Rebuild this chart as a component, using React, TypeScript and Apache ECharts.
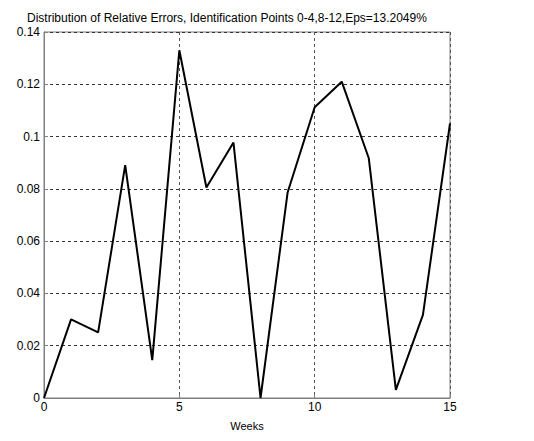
import React, { useEffect, useRef } from "react";
import * as echarts from "echarts";

const weeks = [0, 1, 2, 3, 4, 5, 6, 7, 8, 9, 10, 11, 12, 13, 14, 15];
const relErrors = [0, 0.0301, 0.0251, 0.0891, 0.0145, 0.133, 0.0805, 0.0977, 0, 0.0786, 0.1112, 0.121, 0.0917, 0.0031, 0.0318, 0.105];
const titleText = "Distribution of Relative Errors, Identification Points 0-4,8-12,Eps=13.2049%";
const xLabel = "Weeks";

export default function App() {
  const ref = useRef<HTMLDivElement>(null);
  useEffect(() => {
    if (!ref.current) return;
    const chart = echarts.init(ref.current, undefined, { renderer: "svg" });
    const font = "Liberation Sans";
    chart.setOption({
      animation: false,
      backgroundColor: "#ffffff",
      title: {
        text: titleText,
        left: 22,
        top: 7,
        textStyle: { fontFamily: font, fontSize: 12, fontWeight: "normal", color: "#000" },
      },
      grid: {
        left: 44,
        top: 32,
        width: 406,
        height: 366,
        show: true,
        borderColor: "#7f7f7f",
        borderWidth: 1,
        backgroundColor: "transparent",
      },
      xAxis: {
        type: "value",
        min: 0,
        max: 15,
        interval: 5,
        name: xLabel,
        nameLocation: "middle",
        nameGap: 22,
        nameTextStyle: { fontFamily: font, fontSize: 11, color: "#000" },
        axisLine: { show: true, lineStyle: { color: "#7f7f7f", width: 1 } },
        axisTick: { show: true, inside: true, length: 4, lineStyle: { color: "#7f7f7f" } },
        axisLabel: { fontFamily: font, fontSize: 12, color: "#000", margin: 3 },
        splitLine: { show: true, lineStyle: { color: "#555", type: [3, 3], width: 1 } },
      },
      yAxis: {
        type: "value",
        min: 0,
        max: 0.14,
        interval: 0.02,
        axisLine: { show: true, lineStyle: { color: "#7f7f7f", width: 1 } },
        axisTick: { show: true, inside: true, length: 4, lineStyle: { color: "#7f7f7f" } },
        axisLabel: {
          fontFamily: font,
          fontSize: 12,
          color: "#000",
          margin: 4,
          formatter: (v: number) => String(parseFloat(v.toFixed(2))),
        },
        splitLine: { show: true, lineStyle: { color: "#333", type: [3, 3], width: 1 } },
      },
      series: [
        {
          type: "line",
          data: weeks.map((w, i) => [w, relErrors[i]]),
          symbol: "none",
          lineStyle: { color: "#000", width: 2 },
        },
      ],
    });
    return () => chart.dispose();
  }, []);
  return (
    <div
      ref={ref}
      style={{ position: "fixed", left: 0, top: 0, width: 534, height: 441, background: "#fff" }}
    />
  );
}
